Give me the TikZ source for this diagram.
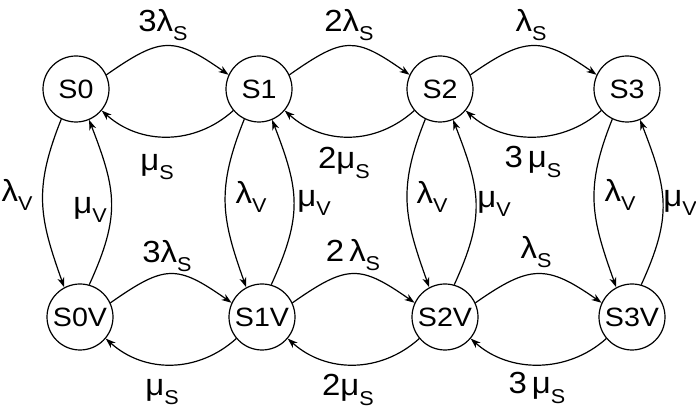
\documentclass[tikz,border=0pt]{standalone}
\usepackage{fontspec}
\setmainfont[FakeStretch=1.08]{Liberation Sans}
\usetikzlibrary{arrows.meta}
\newcommand{\lsub}[1]{\raisebox{-9.5pt}{\fontsize{20}{20}\selectfont #1}}
\begin{document}
\begin{tikzpicture}[x=1pt,y=1pt,
  state/.style={circle,draw,line width=1.2pt,minimum size=66pt,inner sep=0pt,font=\fontsize{26.5}{26.5}\selectfont},
  lbl/.style={font=\fontsize{30.5}{30.5}\selectfont,inner sep=0pt},
  edge/.style={line width=1.2pt,-{Stealth[length=10pt,width=7pt,inset=3pt]}}]
\useasboundingbox (0,0) rectangle (696,414);
\node[state] (S0) at (76,325) {S0};
\node[state] (S1) at (259,325) {S1};
\node[state] (S2) at (440,325) {S2};
\node[state] (S3) at (627,325) {S3};
\node[state] (S0V) at (80,97) {S0V};
\node[state] (S1V) at (262,97) {S1V};
\node[state] (S2V) at (445,97) {S2V};
\node[state] (S3V) at (632,97) {S3V};
\foreach \a/\b in {S0/S1,S1/S2,S2/S3,S0V/S1V,S1V/S2V,S2V/S3V} {
  \draw[edge] (\a.25) .. controls +(35:67) and +(145:67) .. (\b.155);
  \draw[edge] (\b.220) .. controls +(222:52) and +(318:52) .. (\a.320);
}
\foreach \a in {0,1,2,3} {
  \draw[edge] (S\a.244) .. controls +(-28,-70) and +(-25,70) .. (S\a V.118);
  \draw[edge] (S\a V.74) .. controls +(32,70) and +(27,-70) .. (S\a.293);
}
% top row labels
\node[lbl] (t1) at (163,389) {3λ\lsub{S}};
\node[lbl] (t2) at (349,389) {2λ\lsub{S}};
\node[lbl] (t3) at (531,389) {λ\lsub{S}};
\node[lbl] (u1) at (157,247) {μ\lsub{S}};
\node[lbl] (u2) at (344,251) {2μ\lsub{S}};
\node[lbl] (u3) at (533,252) {3\,μ\lsub{S}};
% vertical labels
\node[lbl] (v0a) at (17,219) {λ\lsub{V}};
\node[lbl] (v0b) at (90,204) {μ\lsub{V}};
\node[lbl] (v1a) at (251,217) {λ\lsub{V}};
\node[lbl] (v1b) at (314,211) {μ\lsub{V}};
\node[lbl] (v2a) at (432,217) {λ\lsub{V}};
\node[lbl] (v2b) at (494,210) {μ\lsub{V}};
\node[lbl] (v3a) at (620,219) {λ\lsub{V}};
\node[lbl] (v3b) at (680,211) {μ\lsub{V}};
% bottom row labels
\node[lbl] (b1) at (167,158) {3λ\lsub{S}};
\node[lbl] (b2) at (353,159) {2\,λ\lsub{S}};
\node[lbl] (b3) at (536,162) {λ\lsub{S}};
\node[lbl] (w1) at (162,22) {μ\lsub{S}};
\node[lbl] (w2) at (348,24) {2μ\lsub{S}};
\node[lbl] (w3) at (537,26) {3\,μ\lsub{S}};
\end{tikzpicture}
\end{document}
